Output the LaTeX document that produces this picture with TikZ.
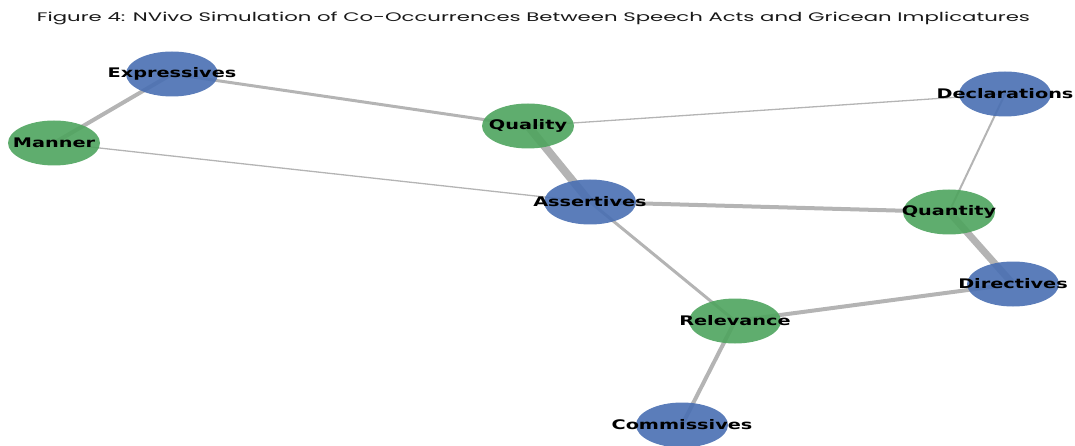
\documentclass[tikz,border=0pt]{standalone}
\usepackage{fontspec}
\usepackage{tikz}
\usetikzlibrary{shapes.geometric,backgrounds}
\newfontfamily\titlefont{Poppins}
\newfontfamily\labelfont[FakeStretch=1.46]{DejaVu Sans}
\definecolor{ink}{HTML}{000000}
\definecolor{actblue}{HTML}{496FB2}
\definecolor{maxgreen}{HTML}{4EA45E}
\definecolor{linkgray}{HTML}{B4B4B4}
\tikzset{
  basenode/.style={ellipse,minimum width=92pt,minimum height=45pt,inner sep=0pt,fill opacity=0.9,text opacity=1,text=ink,font=\labelfont\bfseries\fontsize{13.2pt}{15pt}\selectfont},
  actnode/.style={basenode,fill=actblue},
  maxnode/.style={basenode,fill=maxgreen},
  link/.style={draw=linkgray,line cap=butt},
  hairlink/.style={link,line width=1.3pt},
  thinlink/.style={link,line width=2pt},
  midlink/.style={link,line width=3pt},
  widelink/.style={link,line width=4pt},
  heavylink/.style={link,line width=7pt},
  title/.style={font=\titlefont\fontsize{12.4pt}{14pt}\selectfont,text=ink!90,inner sep=0pt,anchor=base}
}
\newcommand{\lbl}[1]{\makebox[0pt]{#1}}

\begin{document}
\begin{tikzpicture}[x=1pt,y=-1pt]
  \useasboundingbox (0,0) rectangle (1075,446);
  \node[title] (caption) at (533.5,21.7) {\resizebox{993pt}{\height}{Figure 4: NVivo Simulation of Co-Occurrences Between Speech Acts and Gricean Implicatures}};

  \node[actnode] (expr) at (172,74) {\lbl{Expressives}};
  \node[maxnode] (manner) at (54,143) {\lbl{Manner}};
  \node[maxnode] (quality) at (528,126) {\lbl{Quality}};
  \node[actnode] (assert) at (590,202) {\lbl{Assertives}};
  \node[actnode] (decl) at (1005,94) {\lbl{Declarations}};
  \node[maxnode] (quantity) at (949,212) {\lbl{Quantity}};
  \node[actnode] (direct) at (1013,284) {\lbl{Directives}};
  \node[maxnode] (relev) at (735,321) {\lbl{Relevance}};
  \node[actnode] (commis) at (682,425) {\lbl{Commissives}};

  \begin{pgfonlayer}{background}
    \draw[widelink] (expr.center) -- (manner.center);
    \draw[midlink] (expr.center) -- (quality.center);
    \draw[hairlink] (manner.center) -- (assert.center);
    \draw[hairlink] (quality.center) -- (decl.center);
    \draw[link,line width=8pt] (quality.center) -- (assert.center);
    \draw[widelink] (assert.center) -- (quantity.center);
    \draw[midlink] (assert.center) -- (relev.center);
    \draw[thinlink] (decl.center) -- (quantity.center);
    \draw[heavylink] (quantity.center) -- (direct.center);
    \draw[widelink] (relev.center) -- (direct.center);
    \draw[widelink] (relev.center) -- (commis.center);
  \end{pgfonlayer}
\end{tikzpicture}
\end{document}
